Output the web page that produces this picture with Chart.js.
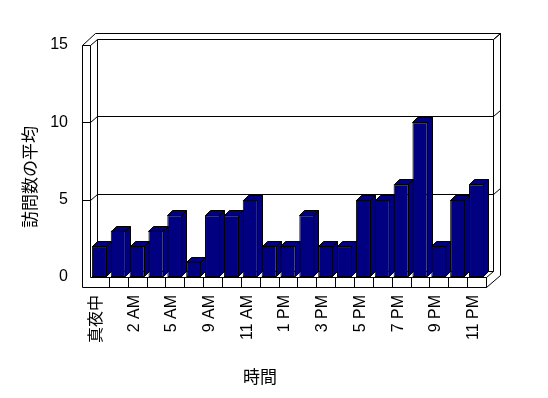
<!DOCTYPE html>
<html>
<head>
<meta charset="utf-8">
<script src="https://cdn.jsdelivr.net/npm/chart.js@4"></script>
<style>
  body { margin: 0; background: #fff; }
</style>
</head>
<body>
<canvas id="chart" width="548" height="398"></canvas>
<script>
// hours of the day (every second one gets a label) and average visits
const categories = ['真夜中', '1 AM', '2 AM', '4 AM', '5 AM', '7 AM', '9 AM', '10 AM', '11 AM', '12 PM',
  '1 PM', '2 PM', '3 PM', '4 PM', '5 PM', '6 PM', '7 PM', '8 PM', '9 PM', '10 PM', '11 PM'];
const visits = [2, 3, 2, 3, 4, 1, 4, 4, 5, 2, 2, 4, 2, 2, 5, 5, 6, 10, 2, 5, 6];
const yMax = 15;
const yStep = 5;
const xTitle = '時間';
const yTitle = '訪問数の平均';

const barColor = '#000080';
const depth = { x: 7, y: -6 };     // front plane -> back wall
const barDepth = { x: 5, y: -5 };
const wall = 8;                    // left wall thickness
const floor = 10;                  // floor slab thickness

function line(ctx, pts) {
  ctx.beginPath();
  ctx.moveTo(pts[0][0], pts[0][1]);
  for (let i = 1; i < pts.length; i++) ctx.lineTo(pts[i][0], pts[i][1]);
  ctx.stroke();
}

function poly(ctx, pts) {
  ctx.beginPath();
  ctx.moveTo(pts[0][0], pts[0][1]);
  for (let i = 1; i < pts.length; i++) ctx.lineTo(pts[i][0], pts[i][1]);
  ctx.closePath();
  ctx.fill();
  ctx.stroke();
}

const frame3d = {
  id: 'frame3d',
  beforeDatasetsDraw(chart) {
    const { ctx, chartArea: a, scales: { x, y } } = chart;
    const L = Math.round(a.left) + 0.5;
    const R = Math.round(a.right) + 0.5;
    const T = Math.round(y.getPixelForValue(yMax)) + 0.5;
    const B = Math.round(y.getPixelForValue(0)) + 0.5;
    const dx = depth.x, dy = depth.y;
    ctx.save();
    ctx.strokeStyle = '#000';
    ctx.lineWidth = 1;

    // walls: outer edges, back wall and its right-hand thickness
    line(ctx, [[L - wall, B + floor], [L - wall, T], [L, T], [L, B]]);
    line(ctx, [[L - wall, T], [L - wall + 2 * dx - 1, T + 2 * dy], [R + 2 * dx, T + 2 * dy], [R + 2 * dx, B + floor + 2 * dy], [R, B + floor]]);
    line(ctx, [[L + dx, T + dy], [L + dx, B + dy], [R + dx, B + dy], [R + dx, T + dy]]);
    line(ctx, [[R, B], [R + dx, B + dy]]);
    line(ctx, [[R + dx, T + dy], [R + 2 * dx, T + 2 * dy]]);

    // gridlines on the back wall with their ticks on the left wall
    for (let v = yStep; v <= yMax; v += yStep) {
      const py = Math.round(y.getPixelForValue(v)) + 0.5;
      line(ctx, [[L - wall, py], [L, py], [L + dx, py + dy], [R + dx, py + dy], [R + 2 * dx, py + 2 * dy]]);
    }

    // floor slab
    line(ctx, [[L - wall, B + floor], [R, B + floor], [R, B], [L, B]]);
    const half = (x.getPixelForValue(1) - x.getPixelForValue(0)) / 2;
    for (let i = 0; i < categories.length; i++) {
      const px = Math.round(x.getPixelForValue(i) + half) + 0.5;
      line(ctx, [[px, B], [px, B + floor]]);
    }

    // tops and sides of the bars, drawn before the front faces
    ctx.fillStyle = barColor;
    chart.getDatasetMeta(0).data.forEach(bar => {
      const l = Math.round(bar.x - bar.width / 2) + 0.5;
      const r = Math.round(bar.x + bar.width / 2) - 0.5;
      const t = Math.round(bar.y) + 0.5;
      const b = Math.round(bar.base) - 0.5;
      poly(ctx, [[r, t], [r + barDepth.x, t + barDepth.y], [r + barDepth.x, b + barDepth.y], [r, b]]);
      poly(ctx, [[l, t], [l + barDepth.x, t + barDepth.y], [r + barDepth.x, t + barDepth.y], [r, t]]);
    });
    ctx.restore();
  },
  afterDraw(chart) {
    const { ctx } = chart;
    ctx.save();
    ctx.fillStyle = '#000';
    ctx.font = "17px 'Noto Sans CJK JP', sans-serif";
    ctx.textAlign = 'center';
    ctx.textBaseline = 'middle';
    ctx.fillText(xTitle, 260, 377);
    ctx.translate(30, 177);
    ctx.rotate(-Math.PI / 2);
    ctx.fillText(yTitle, 0, 0);
    ctx.restore();
  }
};

Chart.defaults.font.family = "'Liberation Sans', 'Noto Sans CJK JP', sans-serif";
Chart.defaults.font.size = 16;
Chart.defaults.color = '#000';

new Chart(document.getElementById('chart'), {
  type: 'bar',
  data: {
    labels: categories,
    datasets: [{
      data: visits,
      backgroundColor: barColor,
      borderColor: '#000',
      borderWidth: 1,
      borderSkipped: false,
      categoryPercentage: 1,
      barPercentage: 0.8
    }]
  },
  options: {
    responsive: false,
    animation: false,
    layout: { padding: { top: 45, right: 62, left: 0, bottom: 0 } },
    plugins: { legend: { display: false }, tooltip: { enabled: false } },
    scales: {
      x: {
        grid: { display: false, drawTicks: false },
        border: { display: false },
        ticks: {
          autoSkip: false,
          minRotation: 90,
          maxRotation: 90,
          padding: 18,
          labelOffset: -3,
          callback: (v, i) => (i % 2 === 0 ? categories[i] : '')
        },
        afterFit: s => { s.height = 121; }
      },
      y: {
        min: 0,
        max: yMax,
        grid: { display: false, drawTicks: false },
        border: { display: false },
        ticks: { stepSize: yStep, padding: 22 },
        afterFit: s => { s.width = 90; }
      }
    }
  },
  plugins: [frame3d]
});
</script>
</body>
</html>
